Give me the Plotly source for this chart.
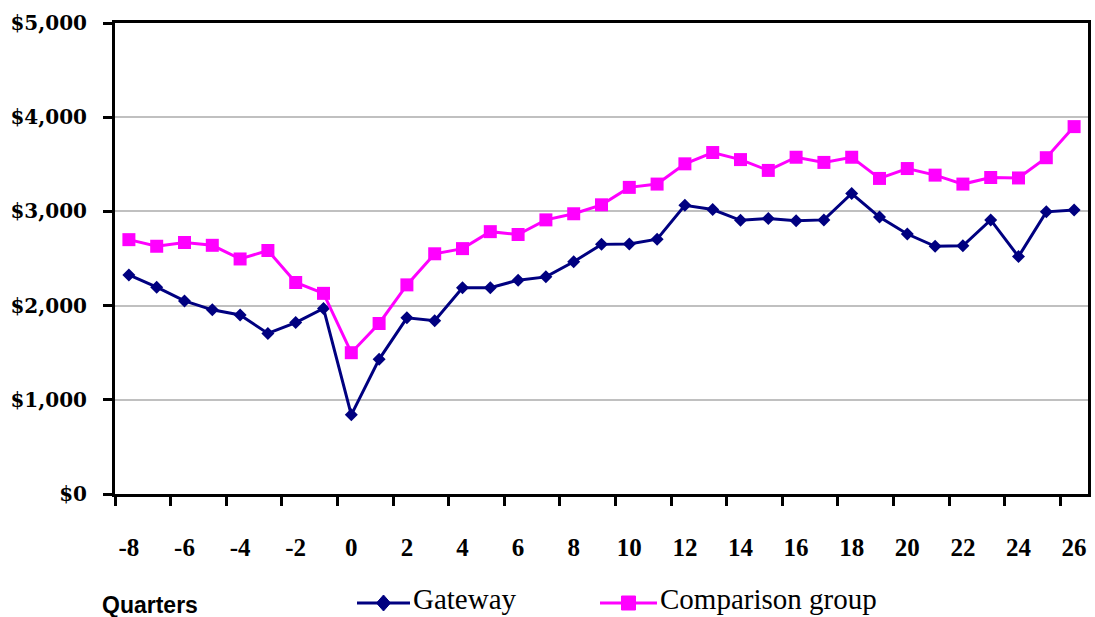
import plotly.graph_objects as go

# Quarters relative to program entry
quarters = list(range(-8, 27))

# Average quarterly earnings, Gateway participants
gateway = [2325, 2195, 2050, 1955, 1900, 1705, 1820, 1970, 840, 1430,
           1870, 1840, 2190, 2190, 2270, 2305, 2465, 2650, 2655, 2705,
           3065, 3020, 2905, 2925, 2900, 2910, 3190, 2940, 2760, 2630,
           2635, 2910, 2520, 2995, 3015]

# Average quarterly earnings, comparison group
comparison = [2700, 2630, 2670, 2640, 2495, 2585, 2245, 2130, 1500, 1810,
              2220, 2550, 2605, 2785, 2755, 2910, 2975, 3070, 3255, 3290,
              3505, 3625, 3550, 3435, 3575, 3520, 3575, 3350, 3455, 3385,
              3290, 3360, 3355, 3570, 3900]

y_ticks = [0, 1000, 2000, 3000, 4000, 5000]
y_tick_text = ["$0", "$1,000", "$2,000", "$3,000", "$4,000", "$5,000"]
x_ticks = list(range(-8, 27, 2))
x_tick_text = [str(q) for q in x_ticks]  # plain hyphen for negatives

NAVY = "#000080"
MAGENTA = "#FF00FF"

W, H = 1095, 617
M_L, M_R, M_T, M_B = 115, 7, 23, 123
PLOT_W = W - M_L - M_R
PLOT_H = H - M_T - M_B


def px_x(px):
    """Page pixel column -> paper x fraction."""
    return (px - M_L) / PLOT_W


def px_y(py):
    """Page pixel row -> paper y fraction."""
    return (H - M_B - py) / PLOT_H


fig = go.Figure()
fig.add_trace(go.Scatter(
    x=quarters, y=gateway, name="Gateway", mode="lines+markers",
    line=dict(color=NAVY, width=3),
    marker=dict(symbol="diamond", size=10, color=NAVY),
))
fig.add_trace(go.Scatter(
    x=quarters, y=comparison, name="Comparison group", mode="lines+markers",
    line=dict(color=MAGENTA, width=3),
    marker=dict(symbol="square", size=13, color=MAGENTA),
))

fig.update_layout(
    width=W, height=H,
    margin=dict(l=M_L, r=M_R, t=M_T, b=M_B, autoexpand=False),
    paper_bgcolor="white", plot_bgcolor="white",
    showlegend=False,
    xaxis=dict(
        range=[-8.5, 26.5], automargin=False,
        tickmode="array", tickvals=x_ticks, ticktext=x_tick_text,
        ticks="", ticklabelstandoff=29,
        tickfont=dict(family="Liberation Serif", size=25, color="black", weight="bold"),
        showgrid=False, zeroline=False,
        showline=True, linecolor="black", linewidth=3, mirror=True,
        minor=dict(tick0=-8.5, dtick=2, ticks="outside", ticklen=9,
                   tickwidth=3, tickcolor="black", showgrid=False),
    ),
    yaxis=dict(
        range=[0, 5000], automargin=False,
        tickmode="array", tickvals=y_ticks, ticktext=y_tick_text,
        ticks="outside", ticklen=9, tickwidth=3, tickcolor="black",
        tickfont=dict(family="DejaVu Serif", size=20, color="black", weight="bold"),
        ticklabelstandoff=12,
        showgrid=True, gridcolor="#C0C0C0", gridwidth=2,
        zeroline=False,
        showline=True, linecolor="black", linewidth=3, mirror=True,
    ),
)

fig.add_annotation(
    text="Quarters", xref="paper", yref="paper",
    x=px_x(100), y=px_y(605), xanchor="left", yanchor="middle", showarrow=False,
    font=dict(family="Liberation Sans", size=23, color="black", weight="bold"),
)

# Legend row drawn beneath the axis title line
LEG_Y = 603
legend_items = [
    ("Gateway", NAVY, "M-7,0 L0,8 L7,0 L0,-8 Z", 357, 410),
    ("Comparison group", MAGENTA, "M-7,-7 L7,-7 L7,7 L-7,7 Z", 600, 657),
]
for label, color, glyph, x0, x1 in legend_items:
    fig.add_shape(type="line", xref="paper", yref="paper",
                  x0=px_x(x0), x1=px_x(x1), y0=px_y(LEG_Y), y1=px_y(LEG_Y),
                  line=dict(color=color, width=3))
    fig.add_shape(type="path", xref="paper", yref="paper",
                  xsizemode="pixel", ysizemode="pixel",
                  xanchor=px_x((x0 + x1) / 2), yanchor=px_y(LEG_Y),
                  path=glyph, fillcolor=color, line=dict(color=color, width=1))
    fig.add_annotation(
        text=label, xref="paper", yref="paper",
        x=px_x(x1 + 2), y=px_y(616), xanchor="left", yanchor="bottom",
        showarrow=False, borderpad=0,
        font=dict(family="Liberation Serif", size=29, color="black"),
    )

fig.write_html("out.html")
